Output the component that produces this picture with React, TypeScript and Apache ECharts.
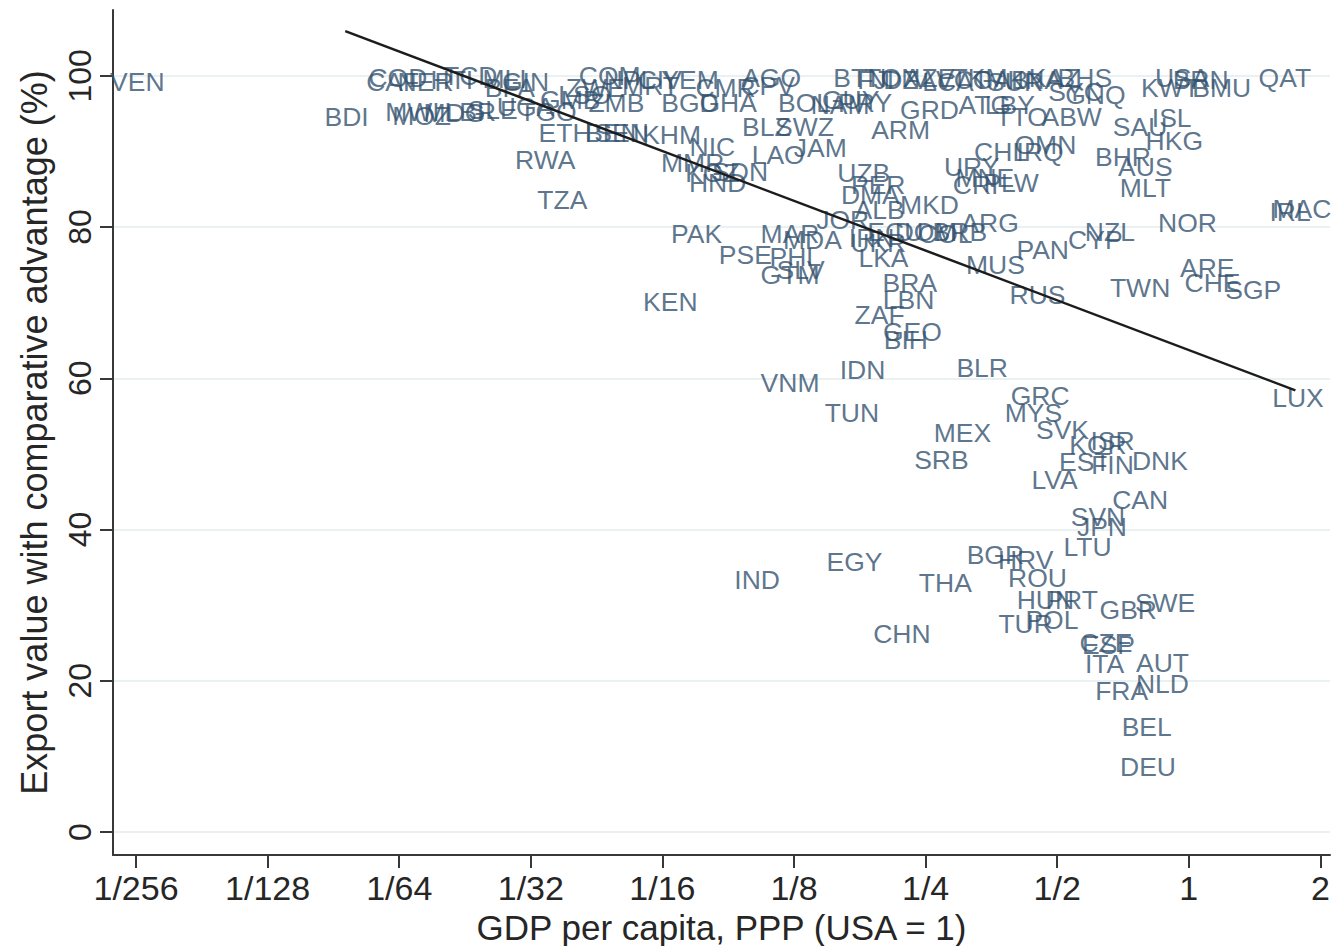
import React, { useEffect, useRef } from "react";
import * as echarts from "echarts";

// Country codes (ISO3) shown as marker labels
const countries = [
  "VEN","BDI","CAF","COD","NER","MWI","MOZ","HTI","TCD","MDG","SLE","LBR","MLI","GIN","BFA","UGA","TGO","GMB","ZWE","LSO",
  "COM","NPL","CIV","YEM","MRT","ZMB","BGD","GHA","CMR","AGO","CPV","ETH","BEN","SEN","KHM","NIC","LAO","JAM","BLZ","SWZ",
  "RWA","TZA","MMR","KGZ","HND","SDN","KEN","PAK","PSE","MAR","MDA","PHL","GTM","SLV","BOL","NAM","PRY","GUY","BTN","FJI",
  "TON","DZA","AZE","LCA","VCT","TKM","GAB","SUR","KNA","KAZ","BHS","SYC","GNQ","GRD","ARM","ATG","LBY","TTO","ABW","KWT",
  "USA","BRN","BMU","QAT","ISL","SAU","HKG","BHR","AUS","MLT","CHL","OMN","IRQ","URY","MNE","CRI","PLW","UZB","PER","DMA",
  "ALB","MKD","JOR","ARG","ECU","DOM","COL","BRB","UKR","IRN","LKA","BRA","LBN","ZAF","GEO","BIH","MUS","PAN","CYP","NZL",
  "RUS","NOR","MAC","IRL","TWN","ARE","CHE","SGP","LUX","IDN","VNM","TUN","BLR","MEX","SRB","GRC","MYS","SVK","KOR","ISR",
  "EST","FIN","DNK","LVA","CAN","SVN","JPN","LTU","BGR","HRV","ROU","THA","EGY","IND","CHN","HUN","PRT","GBR","SWE","TUR",
  "POL","CZE","ESP","ITA","AUT","NLD","FRA","BEL","DEU"
];

// GDP per capita, PPP, relative to USA, as log base 2 (0 = USA, -1 = half, ...)
const logGdp = [
  -7.99,-6.40,-6.05,-6.01,-5.80,-5.90,-5.83,-5.60,-5.46,-5.58,-5.29,-5.46,-5.20,-5.04,-5.16,-5.04,-4.87,-4.70,-4.51,-4.59,
  -4.40,-4.25,-4.02,-3.79,-4.09,-4.35,-3.79,-3.50,-3.52,-3.17,-3.20,-4.74,-4.38,-4.31,-3.93,-3.62,-3.12,-2.80,-3.21,-2.92,
  -4.89,-4.76,-3.77,-3.62,-3.58,-3.41,-3.94,-3.74,-3.37,-3.03,-2.86,-2.99,-3.03,-2.95,-2.92,-2.65,-2.46,-2.57,-2.50,-2.38,
  -2.25,-2.12,-1.97,-1.83,-1.72,-1.59,-1.43,-1.32,-1.17,-1.02,-0.79,-0.86,-0.71,-1.97,-2.19,-1.55,-1.36,-1.27,-0.89,-0.14,
  -0.05,0.09,0.25,0.73,-0.13,-0.37,-0.11,-0.50,-0.33,-0.33,-1.43,-1.09,-1.13,-1.65,-1.55,-1.62,-1.35,-2.47,-2.36,-2.42,
  -2.35,-1.97,-2.63,-1.51,-2.23,-2.00,-1.85,-1.74,-2.36,-2.41,-2.32,-2.12,-2.13,-2.35,-2.10,-2.15,-1.47,-1.11,-0.71,-0.60,
  -1.15,-0.01,0.86,0.77,-0.37,0.14,0.18,0.49,0.83,-2.48,-3.03,-2.56,-1.57,-1.72,-1.88,-1.13,-1.18,-0.96,-0.69,-0.58,
  -0.79,-0.58,-0.22,-1.02,-0.37,-0.69,-0.66,-0.77,-1.47,-1.24,-1.15,-1.85,-2.54,-3.28,-2.18,-1.09,-0.89,-0.46,-0.18,-1.24,
  -1.04,-0.63,-0.61,-0.64,-0.20,-0.20,-0.51,-0.32,-0.31
];

// Export value with comparative advantage (%)
const exportShare = [
  99.2,94.5,99.2,99.7,99.2,95.2,94.7,99.4,100.0,95.1,95.5,95.2,99.6,99.2,98.4,95.9,95.2,96.8,98.4,97.5,
  100.0,99.4,99.4,99.4,98.6,96.4,96.4,96.4,98.4,99.7,98.6,92.4,92.4,92.4,92.2,90.6,89.5,90.4,93.2,93.2,
  88.9,83.6,88.5,87.1,85.8,87.3,70.1,79.1,76.3,79.1,78.3,76.0,73.7,74.3,96.4,96.1,96.4,96.8,99.7,99.4,
  99.7,99.4,99.7,99.2,99.4,99.7,99.4,99.2,99.4,99.7,99.7,97.9,97.5,95.5,92.8,96.1,96.1,94.5,94.5,98.4,
  99.7,99.4,98.4,99.7,94.4,93.2,91.4,89.3,87.9,85.2,89.9,90.8,89.9,87.9,86.5,85.6,85.8,87.1,85.6,84.2,
  82.2,82.9,80.9,80.5,79.3,79.3,79.1,79.3,77.9,78.5,75.9,72.6,70.3,68.4,66.1,65.1,75.0,77.0,78.3,79.3,
  71.0,80.5,82.4,82.0,71.9,74.6,72.6,71.7,57.4,61.1,59.4,55.4,61.4,52.8,49.2,57.7,55.4,53.2,51.2,51.7,
  48.9,48.5,49.1,46.5,43.9,41.7,40.3,37.7,36.6,36.0,33.6,32.9,35.7,33.3,26.2,30.7,30.7,29.4,30.3,27.5,
  28.0,25.0,24.7,22.2,22.3,19.6,18.6,13.9,8.6
];

// Linear fit line (endpoints)
const fitLogGdp = [-6.41, 0.81];
const fitShare = [105.9, 58.4];

// Axis ticks
const xTickValues = [-8, -7, -6, -5, -4, -3, -2, -1, 0, 1];
const xTickLabels = ["1/256", "1/128", "1/64", "1/32", "1/16", "1/8", "1/4", "1/2", "1", "2"];
const yTickValues = [0, 20, 40, 60, 80, 100];

const FONT = "'Liberation Sans', Arial, Helvetica, sans-serif";

export default function App() {
  const ref = useRef<HTMLDivElement>(null);

  useEffect(() => {
    if (!ref.current) return;
    const chart = echarts.init(ref.current, undefined, { renderer: "svg" });

    const pointData = countries.map((c, i) => ({
      name: c,
      value: [logGdp[i], exportShare[i]],
    }));

    const axisColor = "#383838";
    const textColor = "#262626";

    const option: any = {
      animation: false,
      backgroundColor: "#ffffff",
      textStyle: { fontFamily: FONT },
      grid: {
        left: 113,
        top: 10,
        right: 2,
        bottom: 91,
        containLabel: false,
        outerBoundsMode: "none",
      },
      xAxis: {
        type: "value",
        min: -8.175,
        max: 1.073,
        axisLine: { show: true, onZero: false, lineStyle: { color: axisColor, width: 2 } },
        axisTick: {
          show: true,
          length: 13,
          customValues: xTickValues,
          lineStyle: { color: axisColor, width: 2 },
        },
        axisLabel: {
          customValues: xTickValues,
          formatter: (v: number) => {
            const idx = xTickValues.indexOf(Math.round(v));
            return idx >= 0 ? xTickLabels[idx] : "";
          },
          fontSize: 34,
          margin: 16,
          color: textColor,
          fontFamily: FONT,
        },
        splitLine: { show: false },
        name: "GDP per capita, PPP (USA = 1)",
        nameLocation: "middle",
        nameGap: 52,
        nameTextStyle: { fontSize: 35, lineHeight: 36, color: textColor, fontFamily: FONT },
      },
      yAxis: {
        type: "value",
        min: -3.04,
        max: 108.7,
        axisLine: { show: true, onZero: false, lineStyle: { color: axisColor, width: 2 } },
        axisTick: {
          show: true,
          length: 13,
          customValues: yTickValues,
          lineStyle: { color: axisColor, width: 2 },
        },
        axisLabel: {
          customValues: yTickValues,
          rotate: 90,
          fontSize: 32,
          margin: 17,
          color: textColor,
          fontFamily: FONT,
        },
        splitLine: { show: true, lineStyle: { color: "#e3edef", width: 1.5 } },
        name: "Export value with comparative advantage (%)",
        nameLocation: "middle",
        nameRotate: 90,
        nameGap: 61,
        nameTextStyle: { fontSize: 36, color: textColor, fontFamily: FONT },
      },
      series: [
        {
          type: "scatter",
          data: pointData,
          symbolSize: 1,
          itemStyle: { color: "rgba(0,0,0,0)" },
          silent: true,
          label: {
            show: true,
            position: "inside",
            formatter: "{b}",
            fontSize: 26.5,
            color: "#33526f",
            fontFamily: FONT,
          },
          emphasis: { disabled: true },
          z: 2,
        },
        {
          type: "line",
          data: fitLogGdp.map((x, i) => [x, fitShare[i]]),
          showSymbol: false,
          symbol: "none",
          silent: true,
          lineStyle: { color: "#1c1c1c", width: 2.5 },
          z: 3,
        },
      ],
    };

    chart.setOption(option);
    return () => chart.dispose();
  }, []);

  return (
    <div
      ref={ref}
      style={{ position: "fixed", left: 0, top: 0, width: 1332, height: 946, background: "#fff" }}
    />
  );
}
